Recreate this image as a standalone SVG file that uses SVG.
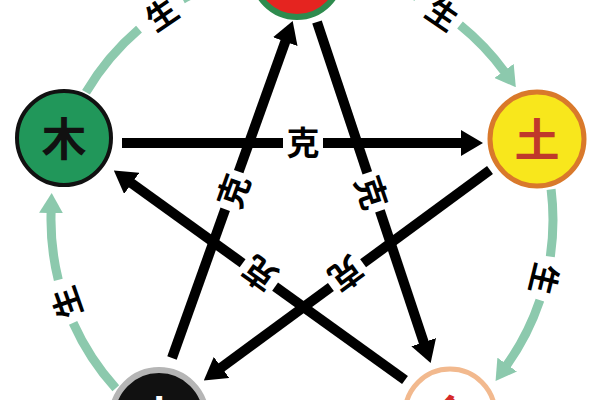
<svg xmlns="http://www.w3.org/2000/svg" width="600" height="400" viewBox="0 0 600 400">
<defs>
<style>
.k{stroke:#000;stroke-width:10;fill:none}
.g{stroke:#8cc9ad;stroke-width:9;fill:none}
.t{font-family:"Noto Sans CJK SC","Noto Sans CJK TC",sans-serif;font-weight:bold;text-anchor:middle;dominant-baseline:central}
.kl{font-size:33px;fill:#000}
.gl{font-size:31px;fill:#000}
.n{font-size:45px}
</style>
<marker id="ka" markerUnits="userSpaceOnUse" markerWidth="22" markerHeight="26" viewBox="0 0 22 26" refX="1" refY="13" orient="auto"><path d="M0,0 L22,13 L0,26 z" fill="#000"/></marker>
<marker id="ga" markerUnits="userSpaceOnUse" markerWidth="20" markerHeight="24" viewBox="0 0 20 24" refX="1" refY="12" orient="auto"><path d="M0,0 L20,12 L0,24 z" fill="#8cc9ad"/></marker>
</defs>
<rect width="600" height="400" fill="#fff"/>
<g id="connectors">
<!-- sheng arcs -->
<path class="g" d="M86,92.2 A251,251 0 0 1 139,29.1"/>
<path class="g" d="M182.6,-0.8 A251,251 0 0 1 228.6,-20" marker-end="url(#ga)"/>
<path class="g" d="M345.6,-27.2 A251,251 0 0 1 416.7,-3.2"/>
<path class="g" d="M460,25 A251,251 0 0 1 504.6,71.8" marker-end="url(#ga)"/>
<path class="g" d="M551.1,189.4 A251,251 0 0 1 550.3,256.7"/>
<path class="g" d="M539.9,300.1 A251,251 0 0 1 506.6,365.4" marker-end="url(#ga)"/>
<path class="g" d="M115.8,388.3 A251,251 0 0 1 73.1,322.9"/>
<path class="g" d="M58.3,279.9 A251,251 0 0 1 51.1,212.1" marker-end="url(#ga)"/>
<!-- ke lines -->
<path class="k" d="M122,143 L283,143"/>
<path class="k" d="M323,143 L462,143" marker-end="url(#ka)"/>
<path class="k" d="M490,170 L363.1,263.3"/>
<path class="k" d="M330.9,287 L220.7,368" marker-end="url(#ka)"/>
<path class="k" d="M172,358 L225.2,209.2"/>
<path class="k" d="M238.7,171.6 L285.6,40.7" marker-end="url(#ka)"/>
<path class="k" d="M317,22 L367.3,172.8"/>
<path class="k" d="M379.9,210.8 L424,343.1" marker-end="url(#ka)"/>
<path class="k" d="M405,380 L275.1,286.6"/>
<path class="k" d="M242.6,263.2 L130.9,182.8" marker-end="url(#ka)"/>
<!-- labels -->
<text class="t gl" transform="translate(160.6,12.6) rotate(-34.3)">生</text>
<text class="t gl" transform="translate(443.4,12.6) rotate(34.3)">生</text>
<text class="t gl" transform="translate(545.9,279.4) rotate(103.7)">生</text>
<text class="t gl" transform="translate(65.1,303) rotate(250.7)">生</text>
<text class="t kl" transform="translate(303,141)">克</text>
<text class="t kl" transform="translate(347,275) rotate(143.7)">克</text>
<text class="t kl" transform="translate(232,190.4) rotate(-70.2)">克</text>
<text class="t kl" transform="translate(373,192) rotate(71.5)">克</text>
<text class="t kl" transform="translate(258.9,274.9) rotate(-144.3)">克</text>
</g>
<g id="fire">
<circle cx="297" cy="-27" r="44" fill="#e52420" stroke="#2e8b4e" stroke-width="6"/>
</g>
<g id="wood">
<circle cx="64" cy="138" r="47" fill="#21975a" stroke="#111" stroke-width="4"/>
<text class="t n" x="64" y="136" fill="#111">木</text>
</g>
<g id="earth">
<circle cx="537" cy="139" r="47" fill="#f8e71c" stroke="#d9792b" stroke-width="5"/>
<text class="t n" x="537" y="137" fill="#c0392b">土</text>
</g>
<g id="water">
<circle cx="159" cy="417" r="47" fill="#111" stroke="#b5b5b5" stroke-width="6"/>
<text class="t n" x="159" y="415" fill="#fff">水</text>
</g>
<g id="metal">
<circle cx="450" cy="414" r="45" fill="#fff" stroke="#f2b98e" stroke-width="5"/>
<text class="t n" x="450" y="414" fill="#d62a2a">金</text>
</g>
</svg>
